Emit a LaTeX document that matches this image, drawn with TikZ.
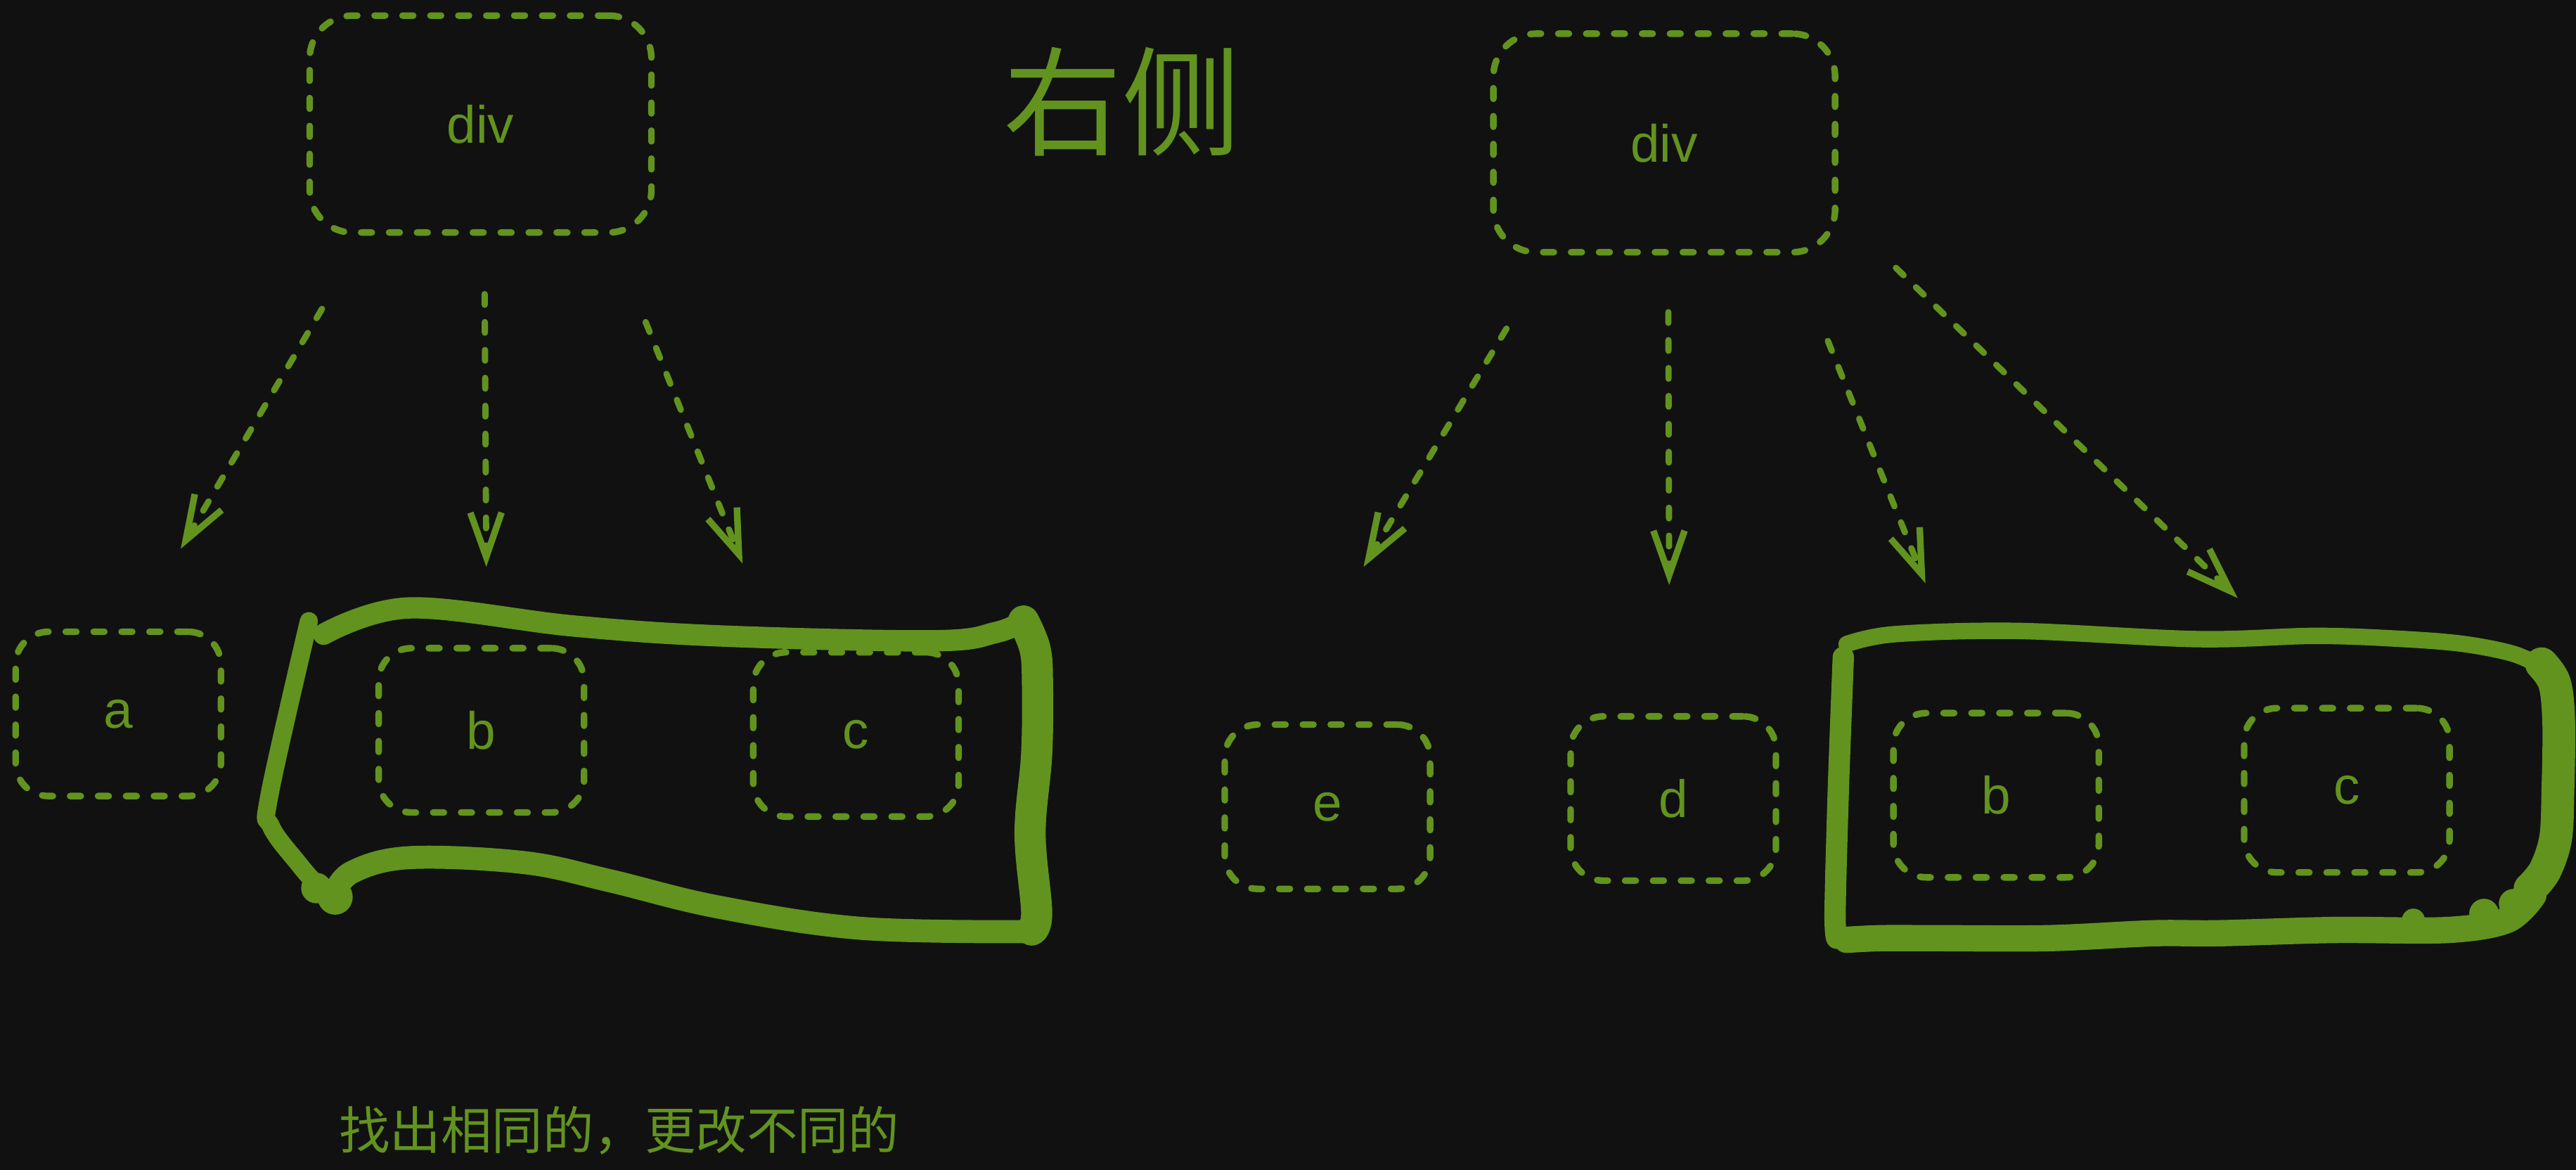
\documentclass[tikz,border=0pt]{standalone}
\usepackage{fontspec}
\setmainfont{Liberation Sans}
\newfontfamily\cjk{Noto Sans CJK SC}
\usetikzlibrary{arrows.meta}
\definecolor{grn}{RGB}{98,147,31}
\definecolor{bg}{RGB}{17,17,17}
\begin{document}
\begin{tikzpicture}[x=1pt,y=-1pt,
  box/.style={draw=grn, line width=4pt, dash pattern=on 6.5pt off 10.5pt, line cap=round,
    rounded corners=20pt, text=grn, font=\fontsize{32}{38}\selectfont, inner sep=0pt,
    minimum width=125pt, minimum height=100pt},
  bigbox/.style={box, rounded corners=26pt},
  link/.style={draw=grn, line width=3.8pt, dash pattern=on 6.5pt off 10.5pt, line cap=round,
    -{Straight Barb[length=27pt,width=19pt,line width=4pt]}},
  lasso/.style={draw=grn, line width=12pt, line cap=round, line join=round},
  label/.style={text=grn, inner sep=0pt},
]
\useasboundingbox (0,0) rectangle (1568,712);
\fill[bg] (0,0) rectangle (1568,712);

% ---------- left tree ----------
\node[bigbox, minimum width=208pt, minimum height=132pt] (divL) at (292.5,75.5) {div};
\node[box] (aL) at (72,434.5) {a};
\node[box] (bL) at (293,444.5) {b};
\node[box] (cL) at (521,447) {c};

\coordinate (l1s) at (196,188); \coordinate (l1e) at (110,334);
\coordinate (l2s) at (295,179); \coordinate (l2e) at (296,345);
\coordinate (l3s) at (393,196); \coordinate (l3e) at (452,343);
\draw[link] (l1s) -- (l1e);
\draw[link] (l2s) -- (l2e);
\draw[link] (l3s) -- (l3e);

% lasso around b, c (left)
\draw[lasso, line width=13pt] plot[smooth, tension=0.6] coordinates {(197,386) (249,370) (349,381) (437,387) (568,390) (606,385) (623,378)};
\draw[lasso, line width=19pt] plot[smooth, tension=0.6] coordinates {(623,378) (630,395) (631.5,416) (631,459) (627,507) (631,555) (628,566)};
\draw[lasso, line width=14pt] plot[smooth, tension=0.6] coordinates {(628,567) (524,565) (437,552) (371,536) (319,525) (249,522) (214,531) (203,545)};
\draw[lasso, line width=11pt] plot[smooth, tension=0.6] coordinates {(194,540) (182,526) (165,503) (164,484) (188,378)};
\fill[grn] (192.6,540.5) circle (9.3pt);
\fill[grn] (204,546) circle (10.7pt);

% ---------- right tree ----------
\node[bigbox, minimum width=208pt, minimum height=133pt] (divR) at (1013,87) {div};
\node[box] (eR) at (808,491) {e};
\node[box] (dR) at (1018.5,486) {d};
\node[box] (bR) at (1215,484) {b};
\node[box] (cR) at (1428.5,481) {c};

\coordinate (r1s) at (917,200);    \coordinate (r1e) at (830,345);
\coordinate (r2s) at (1015.5,190); \coordinate (r2e) at (1016,356);
\coordinate (r3s) at (1112.6,207.5); \coordinate (r3e) at (1172,355);
\coordinate (r4s) at (1154,163);   \coordinate (r4e) at (1362,364);
\draw[link] (r1s) -- (r1e);
\draw[link] (r2s) -- (r2e);
\draw[link] (r3s) -- (r3e);
\draw[link] (r4s) -- (r4e);

% lasso around b, c (right)
\draw[lasso, line width=10pt] plot[smooth, tension=0.55] coordinates {(1124,392) (1153,386) (1228,384) (1338,389) (1410,387) (1464,389) (1500,392) (1530,398) (1550,407)};
\draw[lasso, line width=20pt] plot[smooth, tension=0.55] coordinates {(1547,404) (1555,416) (1557.5,440) (1557,480) (1555.6,510) (1549,530) (1540,541)};
\draw[lasso, line width=16pt] plot[smooth, tension=0.55] coordinates {(1542,545) (1526,560) (1490,566) (1421,566) (1350,568) (1311,568) (1247,571) (1180,571) (1145,571) (1124,572)};
\draw[lasso, line width=13pt] plot[smooth, tension=0.55] coordinates {(1118,571) (1117,555) (1119,480) (1122,400)};
\fill[grn] (1512,556) circle (9pt);
\fill[grn] (1530,550) circle (9pt);
\fill[grn] (1469,560) circle (7pt);

% ---------- texts ----------
\node[label, font=\cjk\fontsize{72}{80}\selectfont] (title) at (683,62) {右侧};
\node[label, font=\cjk\fontsize{31}{36}\selectfont] (note) at (377,688) {找出相同的，更改不同的};
\end{tikzpicture}
\end{document}
